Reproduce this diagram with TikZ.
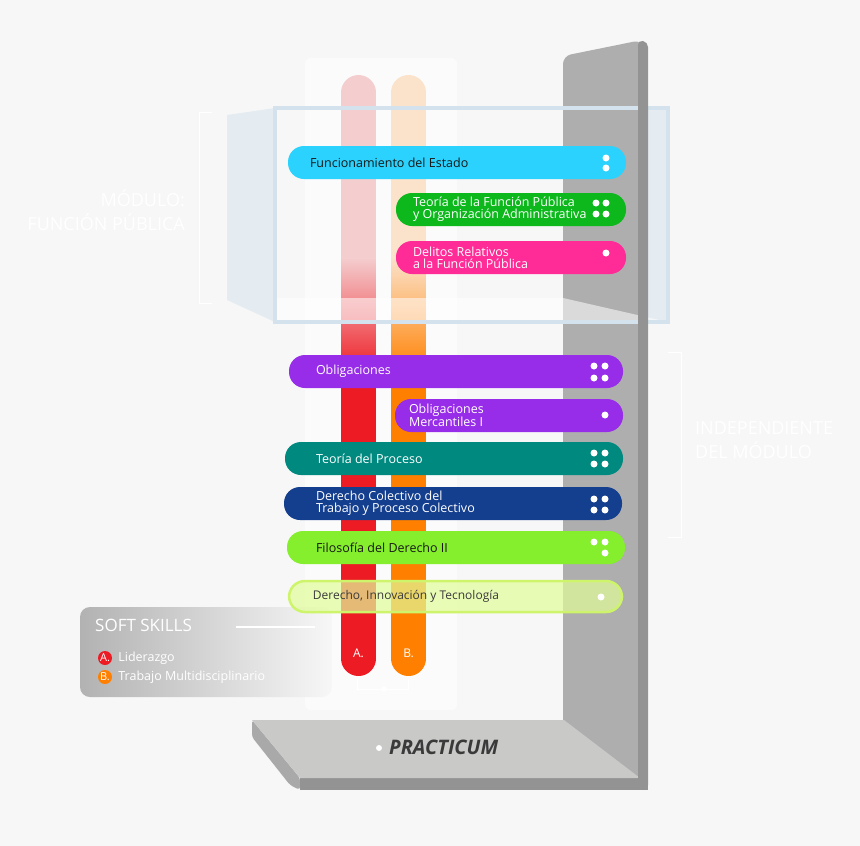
\documentclass[tikz,border=0pt]{standalone}
\usepackage{fontspec}
\setmainfont{Open Sans}
\usepackage{xcolor}
\definecolor{bgcol}{HTML}{F7F7F7}
\definecolor{postlight}{HTML}{AEAEAE}
\definecolor{postdark}{HTML}{939393}
\definecolor{baseside}{HTML}{A9A9A9}
\definecolor{basetop}{HTML}{C9C9C8}
\definecolor{boxline}{HTML}{D3E2EC}
\definecolor{boxfill}{HTML}{E4ECF1}
\definecolor{redbar}{HTML}{ED1C24}
\definecolor{redpale}{HTML}{F4CDCE}
\definecolor{orangebar}{HTML}{FF8000}
\definecolor{orangepale}{HTML}{FBE2CA}
\definecolor{pcyan}{HTML}{2AD2FD}
\definecolor{pgreen}{HTML}{0CB81C}
\definecolor{ppink}{HTML}{FF2C98}
\definecolor{ppurple}{HTML}{972CE9}
\definecolor{pteal}{HTML}{00897F}
\definecolor{pnavy}{HTML}{143E8E}
\definecolor{plime}{HTML}{85EE2D}
\definecolor{ppale}{HTML}{E2FD9A}
\definecolor{ppaleline}{HTML}{CDF46A}
\definecolor{darktext}{HTML}{3A3A3A}
\usetikzlibrary{positioning}

\begin{document}
\begin{tikzpicture}[x=1pt, y=-1pt,
  pill/.style={rectangle, rounded corners=16pt, minimum height=33pt, inner sep=0pt},
  pilltext/.style={font=\fontsize{12.5}{11.8}\selectfont, align=left, inner sep=0pt, text=white},
  badge/.style={circle, minimum size=14pt, inner sep=0pt, text=white, font=\fontsize{11}{11}\selectfont},
  skilltext/.style={font=\fontsize{12.5}{12.5}\selectfont, text=white, inner sep=0pt},
  modlabel/.style={font=\fontsize{18}{24}\selectfont, text=white, inner sep=0pt},
  barlabel/.style={font=\fontsize{12}{12}\selectfont, text=white, inner sep=0pt}
]
  \useasboundingbox (0,0) rectangle (860,846);
  \fill[bgcol] (0,0) rectangle (860,846);
  \fill[white, opacity=0.6, rounded corners=6] (305,58) rectangle (457,710);

  \fill[postlight, rounded corners=8] (563,777) -- (563,56) -- (642,40) -- (642,777) -- cycle;
  \fill[baseside, rounded corners=3] (252,720) -- (252,737) -- (290,785) -- (300,790) -- (300,778) -- cycle;
  \fill[postdark] (300,777) rectangle (648,790);
  \fill[basetop] (252,720) -- (564,720) -- (640,778) -- (300,778) -- cycle;

  \begin{scope}
    \clip[rounded corners=17.5] (341,75) rectangle (376,676);
    \fill[redpale] (341,75) rectangle (376,258);
    \shade[top color=redpale, bottom color=redbar] (341,258) rectangle (376,375);
    \fill[redbar] (341,375) rectangle (376,676);
  \end{scope}
  \begin{scope}
    \clip[rounded corners=17.5] (391,75) rectangle (426,676);
    \fill[orangepale] (391,75) rectangle (426,258);
    \shade[top color=orangepale, bottom color=orangebar] (391,258) rectangle (426,375);
    \fill[orangebar] (391,375) rectangle (426,676);
  \end{scope}
  \node[barlabel] (labA) at (358.5,653) {A.};
  \node[barlabel] (labB) at (408.5,653) {B.};
  \coordinate (abot) at (357,679);
  \coordinate (bbot) at (408,679);
  \draw[white, line width=1] (abot) -- ++(0,10) -| (bbot);
  \fill[white] (384,689) circle (2.5);

  \fill[boxfill] (227,115) -- (275,108) -- (275,322) -- (227,300) -- cycle;
  \fill[boxfill] (642,108) rectangle (668,322);
  \fill[white, opacity=0.55] (277,298) -- (563,298) -- (668,322) -- (277,322) -- cycle;
  \draw[boxline, line width=4] (275,108) rectangle (668,322);
  \fill[postdark, rounded corners=5] (638,777) -- (638,40) -- (648,42) -- (648,790) -- (638,790) -- cycle;

  \shade[rounded corners=10, left color=postlight!95!white, middle color=postlight!55!bgcol, right color=bgcol] (80,607) rectangle (332,697);
  \node[font=\fontsize{17}{17}\selectfont, text=white, inner sep=0pt, anchor=west] (softskills) at (95,625) {SOFT SKILLS};
  \draw[white, line width=1.2] (236,627) -- (315,627);
  \node[badge, fill=redbar] (badgeA) at (105,658) {A.};
  \node[badge, fill=orangebar] (badgeB) at (105,677) {B.};
  \node[skilltext, right=6pt of badgeA] (liderazgo) {Liderazgo};
  \node[skilltext, right=6pt of badgeB] (trabajo) {Trabajo Multidisciplinario};

  \node[pill, fill=pcyan, minimum width=338pt] (estado) at (457,162.5) {};
  \node[pill, fill=pgreen, minimum width=230pt] (teoriafp) at (511,209.5) {};
  \node[pill, fill=ppink, minimum width=230pt] (delitos) at (511,257.5) {};
  \node[pill, fill=ppurple, minimum width=334pt] (oblig) at (456,371.5) {};
  \node[pill, fill=ppurple, minimum width=228pt] (oblmerc) at (509,415.5) {};
  \node[pill, fill=pteal, minimum width=338pt] (proceso) at (454,458.5) {};
  \node[pill, fill=pnavy, minimum width=338pt] (colectivo) at (453,503.5) {};
  \node[pill, fill=plime, minimum width=338pt] (filosofia) at (456,547.5) {};
  \node[pill, fill=ppale, fill opacity=0.7, draw=ppaleline, line width=2.5pt, minimum width=333pt, minimum height=31pt] (innovacion) at (455.5,596.5) {};

  \node[pilltext, text=black!90, right=22pt of estado.west] (estadotxt) {Funcionamiento del Estado};
  \node[pilltext, right=17pt of teoriafp.west] (teoriafptxt) {Teoría de la Función Pública\\y Organización Administrativa};
  \node[pilltext, right=17pt of delitos.west] (delitostxt) {Delitos Relativos\\a la Función Pública};
  \node[pilltext, right=27pt of oblig.west] (obligtxt) {Obligaciones};
  \node[pilltext, right=14pt of oblmerc.west] (oblmerctxt) {Obligaciones\\Mercantiles I};
  \node[pilltext, right=31pt of proceso.west] (procesotxt) {Teoría del Proceso};
  \node[pilltext, right=32pt of colectivo.west] (colectivotxt) {Derecho Colectivo del\\Trabajo y Proceso Colectivo};
  \node[pilltext, text=black!90, right=29pt of filosofia.west] (filosofiatxt) {Filosofía del Derecho II};
  \node[pilltext, text=darktext, font=\fontsize{12}{12}\selectfont, right=25pt of innovacion.west] (innovaciontxt) {Derecho, Innovación y Tecnología};

  \foreach \x/\y in {606/158, 606/168, 596/203, 606/203, 596/214, 606/214, 606/253,
                     594/366, 605/366, 594/378, 605/378, 605/415,
                     594/453, 605/453, 594/464, 605/464, 594/499, 605/499, 594/510, 605/510,
                     594/542, 605/542, 605/553, 601/597}
    \fill[white] (\x,\y) circle (3.5);

  \fill[white] (379,748) circle (3);
  \node[font=\fontsize{20}{20}\selectfont\bfseries\itshape, text=darktext, inner sep=0pt, anchor=west] (practicum) at (389,747) {PRACTICUM};

  \draw[white, line width=1] (212,112) -- (199,112) -- (199,303) -- (212,303);
  \node[modlabel, align=right, anchor=east] (modulo) at (185,210) {MÓDULO:\\FUNCIÓN PÚBLICA};
  \draw[white, line width=1] (668,352) -- (681,352) -- (681,537) -- (668,537);
  \node[modlabel, align=left, anchor=west] (independiente) at (695,440) {INDEPENDIENTE\\DEL MÓDULO};
\end{tikzpicture}
\end{document}
